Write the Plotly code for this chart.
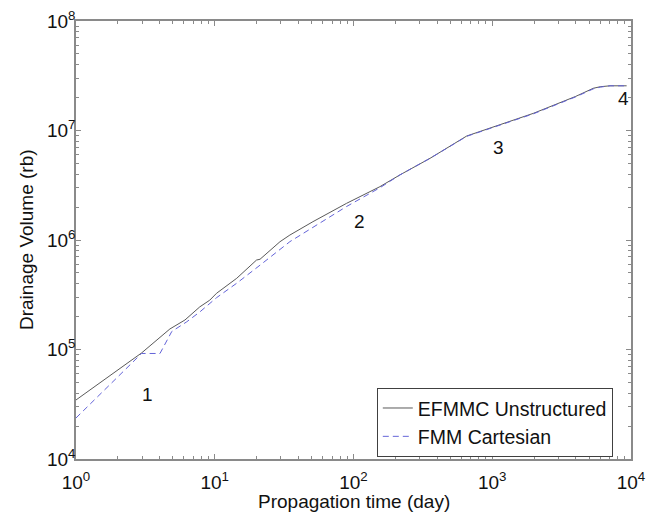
import numpy as np
import plotly.graph_objects as go

# EFMMC Unstructured (solid)
efmmc_t = [1, 2.97, 4.75, 6.1, 7.8, 9.2, 10.3, 14.4, 20, 21.2, 29.5, 34.8, 51, 89, 155, 216, 356, 655, 1980, 4000, 5350, 6000, 7060, 9300]
efmmc_v = [3.46e4, 9.3e4, 1.54e5, 1.86e5, 2.45e5, 2.82e5, 3.26e5, 4.47e5, 6.56e5, 6.67e5, 9.64e5, 1.11e6, 1.47e6, 2.16e6, 3.07e6, 3.93e6, 5.57e6, 8.91e6, 1.435e7, 2.05e7, 2.43e7, 2.51e7, 2.56e7, 2.56e7]

# FMM Cartesian (dashed)
fmm_t = [1, 2.97, 4.03, 4.9, 6.28, 7.83, 10.3, 14.4, 21.2, 34.8, 89, 155, 216, 356, 655, 1980, 4000, 5350, 6000, 7060, 9300]
fmm_v = [2.37e4, 9.2e4, 9.2e4, 1.46e5, 1.79e5, 2.21e5, 2.97e5, 4.03e5, 5.89e5, 9.66e5, 2.02e6, 3.0e6, 3.93e6, 5.57e6, 8.85e6, 1.42e7, 2.03e7, 2.40e7, 2.49e7, 2.56e7, 2.56e7]

# Stage labels
label_text = ["1", "2", "3", "4"]
label_t = [3.25, 111, 1106, 8800]
label_v = [3.9e4, 1.49e6, 7.03e6, 1.97e7]

x_tickvals = [1, 10, 100, 1000, 10000]
x_ticktext = ["10<sup>0</sup>", "10<sup>1</sup>", "10<sup>2</sup>", "10<sup>3</sup>", "10<sup>4</sup>"]
y_tickvals = [1e4, 1e5, 1e6, 1e7, 1e8]
y_ticktext = ["10<sup>4</sup>", "10<sup>5</sup>", "10<sup>6</sup>", "10<sup>7</sup>", "10<sup>8</sup>"]

x_title = "Propagation time (day)"
y_title = "Drainage Volume (rb)"

FONT = "Liberation Sans, Arial, sans-serif"
AX = "#8a8a8a"

fig = go.Figure()
fig.add_trace(go.Scatter(x=efmmc_t, y=efmmc_v, mode="lines", name="EFMMC Unstructured",
                         line=dict(color="#5a5a5a", width=1)))
fig.add_trace(go.Scatter(x=fmm_t, y=fmm_v, mode="lines", name="FMM Cartesian",
                         line=dict(color="#6464d8", width=1, dash="6px,4px")))

for txt, t, v in zip(label_text, label_t, label_v):
    fig.add_annotation(x=np.log10(t), y=np.log10(v), xref="x", yref="y", text=txt,
                       showarrow=False, font=dict(size=19, color="#111", family=FONT))

# axis titles
fig.add_annotation(x=0.5, y=0, xref="paper", yref="paper", text=x_title, showarrow=False,
                   xanchor="center", yanchor="middle", yshift=-42,
                   font=dict(size=19, color="#111", family=FONT))
fig.add_annotation(x=0, y=0.5, xref="paper", yref="paper", text=y_title, showarrow=False,
                   xanchor="center", yanchor="middle", xshift=-50, textangle=-90,
                   font=dict(size=19, color="#111", family=FONT))

x_minor = [m * 10 ** k for k in range(4) for m in range(2, 10)]
y_minor = [m * 10 ** k for k in range(4, 8) for m in range(2, 10)]

common = dict(type="log", showline=True, linecolor=AX, linewidth=1.5, mirror="allticks",
              ticks="inside", ticklen=5, tickcolor=AX, tickwidth=1, showgrid=False, zeroline=False,
              automargin=False, ticklabeloverflow="allow",
              tickfont=dict(size=19, color="#111", family=FONT))

fig.update_xaxes(range=[0, 4], tickmode="array", tickvals=x_tickvals, ticktext=x_ticktext,
                 ticklabelstandoff=5,
                 minor=dict(tickmode="array", tickvals=x_minor, ticks="inside", ticklen=3, tickcolor=AX),
                 **common)
fig.update_yaxes(range=[4, 8], tickmode="array", tickvals=y_tickvals, ticktext=y_ticktext,
                 ticklabelstandoff=-5,
                 minor=dict(tickmode="array", tickvals=y_minor, ticks="inside", ticklen=3, tickcolor=AX),
                 **common)

# page body has an 8px default margin; size figure to fit the 659x513 window
fig.update_layout(
    width=651, height=505,
    margin=dict(l=68, r=28, t=13, b=54),
    paper_bgcolor="white", plot_bgcolor="white",
    font=dict(family=FONT, color="#111"),
    legend=dict(x=0.542, y=0.005, xanchor="left", yanchor="bottom",
                bgcolor="white", bordercolor="#404040", borderwidth=1,
                font=dict(size=19.5, color="#111", family=FONT),
                tracegroupgap=0, itemwidth=30),
    showlegend=True,
)

fig.write_html("out.html")
